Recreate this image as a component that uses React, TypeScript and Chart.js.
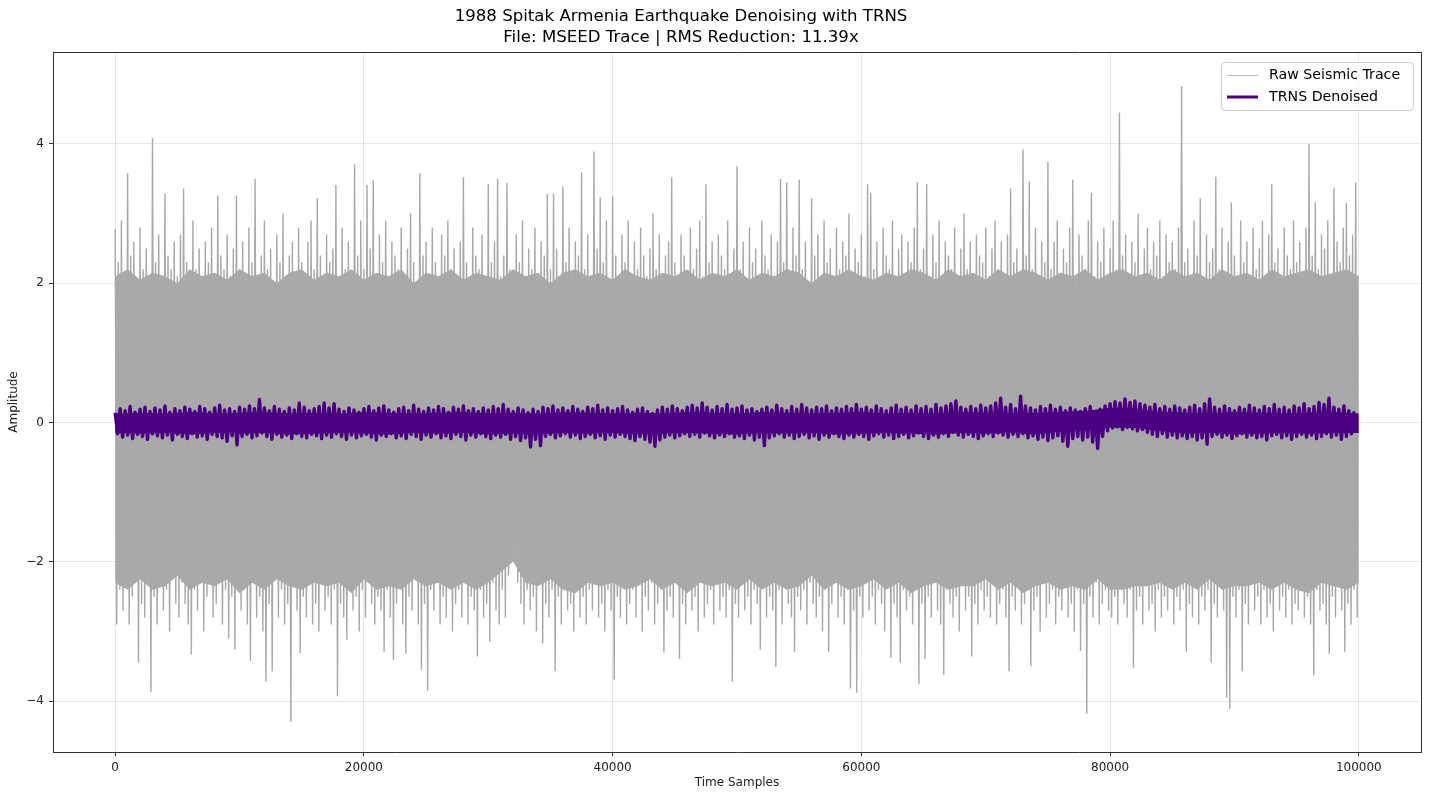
import { useEffect, useRef } from "react";
import { Chart, registerables } from "chart.js";

Chart.register(...registerables);

const TITLE_LINES = [
  "1988 Spitak Armenia Earthquake Denoising with TRNS",
  "File: MSEED Trace | RMS Reduction: 11.39x",
];
const X_TICKS = [0, 20000, 40000, 60000, 80000, 100000];
const Y_TICKS = [-4, -2, 0, 2, 4];

// raw trace: one peak then one trough every 250 samples
const RAW_STEP = 250;
const rawPeaks = [
  2.78, 2.3, 2.9, 2.1, 3.58, 2.4, 2.6, 2.0, 2.8, 2.2, 2.5, 2.0, 4.09, 2.3, 2.7, 2.1, 3.29, 2.4, 2.2, 2.6,
  2.1, 2.7, 3.36, 2.3, 2.0, 2.9, 2.2, 2.5, 2.1, 2.6, 2.3, 2.8, 2.0, 3.26, 2.4, 2.2, 2.7, 2.1, 2.5, 3.26,
  2.2, 2.6, 2.0, 2.8, 2.3, 3.5, 2.1, 2.4, 2.9, 2.2, 2.5, 2.0, 2.7, 2.3, 3.0, 2.1, 2.4, 2.6, 2.0, 2.8,
  2.3, 2.1, 2.6, 2.9, 2.2, 3.22, 2.4, 2.0, 2.7, 2.3, 2.5, 3.41, 2.1, 2.8, 2.2, 2.6, 2.0, 3.71, 2.4, 2.9,
  2.2, 3.41, 2.5, 3.48, 2.1, 2.7, 2.3, 2.9, 2.0, 2.6, 2.4, 2.2, 2.8, 2.1, 2.5, 3.0, 2.3, 2.0, 3.58, 2.4,
  2.6, 2.1, 2.8, 2.3, 2.0, 2.7, 2.4, 2.9, 2.2, 2.5, 2.0, 2.6, 3.52, 2.3, 2.1, 2.8, 2.4, 2.2, 2.7, 2.0,
  3.43, 2.3, 2.6, 3.5, 2.1, 2.4, 3.44, 2.2, 2.0, 2.7, 2.3, 2.9, 2.1, 2.5, 2.2, 2.8, 2.0, 2.6, 2.4, 3.28,
  2.2, 3.29, 2.5, 2.1, 3.39, 2.3, 2.8, 2.0, 2.6, 2.4, 3.59, 2.2, 2.7, 2.1, 3.89, 2.5, 3.23, 2.3, 2.9, 2.0,
  3.25, 2.4, 2.1, 2.7, 2.3, 2.9, 2.0, 2.6, 2.2, 2.8, 2.4, 2.1, 2.5, 3.0, 2.2, 2.7, 2.0, 2.4, 2.6, 3.52,
  2.3, 2.1, 2.7, 2.4, 2.0, 2.8, 2.2, 2.5, 2.9, 2.1, 3.42, 2.3, 2.6, 2.0, 2.7, 2.4, 2.2, 2.9, 2.1, 2.5,
  3.68, 2.2, 2.6, 2.0, 2.8, 2.3, 2.5, 2.1, 2.9, 2.4, 2.2, 2.7, 2.0, 2.6, 3.5, 2.3, 3.45, 2.1, 2.8, 2.4,
  3.49, 2.2, 2.6, 2.0, 3.22, 2.4, 2.7, 2.1, 2.9, 2.3, 2.5, 2.0, 2.8, 2.2, 2.6, 2.4, 3.0, 2.1, 2.5, 2.3,
  2.7, 2.1, 3.42, 3.3, 2.2, 2.6, 2.0, 2.8, 2.4, 2.2, 2.9, 2.1, 2.5, 2.7, 2.0, 2.6, 2.3, 2.8, 3.45, 2.2,
  2.5, 3.43, 2.1, 2.7, 2.3, 2.9, 2.0, 2.6, 2.4, 2.2, 2.8, 2.1, 2.5, 3.0, 2.2, 2.6, 2.0, 2.7, 2.4, 2.3,
  2.8, 2.1, 2.5, 2.9, 2.2, 2.6, 2.0, 2.7, 3.36, 2.3, 2.5, 2.1, 3.92, 2.4, 3.46, 2.2, 2.8, 2.0, 2.6, 2.3,
  3.74, 2.2, 2.6, 2.9, 2.1, 2.5, 2.3, 2.8, 3.49, 2.0, 2.7, 2.4, 2.2, 2.9, 3.3, 2.1, 2.6, 2.3, 2.8, 2.0,
  2.5, 2.9, 2.2, 4.45, 2.4, 2.7, 2.1, 2.6, 2.3, 3.0, 2.0, 2.5, 2.8, 2.2, 2.6, 2.4, 2.9, 2.1, 2.7, 2.3,
  2.6, 2.2, 2.8, 4.83, 2.3, 2.5, 2.0, 2.9, 2.4, 3.22, 2.1, 2.7, 2.3, 2.5, 3.53, 2.2, 2.8, 2.0, 2.6, 3.16,
  2.4, 2.1, 2.9, 2.3, 2.6, 2.0, 2.8, 2.2, 2.5, 2.9, 2.1, 2.7, 3.42, 2.3, 2.5, 2.0, 2.8, 2.4, 2.2, 2.9,
  2.3, 2.6, 2.1, 2.8, 4.0, 2.4, 3.16, 2.2, 2.7, 2.5, 2.9, 2.1, 3.37, 2.6, 2.3, 2.8, 3.15, 2.4, 2.7, 3.45,
];
const rawTroughs = [
  -2.9, -2.4, -2.7, -2.2, -2.9, -2.5, -2.3, -3.44, -2.6, -2.8, -2.2, -3.87, -2.5, -2.9, -2.3, -2.7, -2.4, -3.0, -2.2, -2.6,
  -2.8, -2.3, -2.6, -2.9, -3.33, -2.4, -2.7, -2.2, -3.0, -2.5, -2.3, -2.8, -2.6, -2.2, -2.9, -2.4, -3.1, -2.5, -3.26, -2.3,
  -2.7, -2.4, -2.9, -3.42, -2.3, -2.8, -2.5, -3.0, -3.72, -2.6, -3.57, -2.2, -2.8, -2.4, -2.9, -2.6, -4.3, -2.3, -2.7, -3.31,
  -2.5, -2.8, -2.3, -2.9, -2.6, -3.0, -2.2, -2.7, -2.5, -2.9, -2.4, -3.93, -2.6, -2.8, -3.12, -2.3, -2.7, -2.5, -3.0, -2.4,
  -2.8, -2.3, -2.6, -2.9, -2.5, -2.7, -3.29, -2.4, -2.8, -3.41, -2.6, -2.3, -2.9, -3.32, -2.5, -2.7, -2.2, -2.9, -3.55, -2.6,
  -3.85, -2.4, -2.7, -2.3, -2.9, -2.5, -2.8, -2.2, -3.0, -2.6, -2.4, -2.8, -2.3, -2.9, -2.5, -2.7, -3.36, -2.4, -2.8, -2.6,
  -3.15, -2.3, -2.7, -2.9, -2.4, -2.8, -2.2, -1.6, -1.5, -2.3, -2.6, -2.9, -2.4, -2.7, -2.5, -3.0, -2.3, -3.17, -2.6, -2.8,
  -2.4, -3.57, -2.5, -2.9, -2.3, -2.7, -2.6, -3.0, -2.2, -2.8, -2.5, -2.9, -2.4, -2.7, -2.3, -2.8, -2.6, -3.0, -2.4, -2.7,
  -3.69, -2.5, -2.8, -2.3, -2.9, -2.6, -2.4, -2.8, -2.2, -3.0, -2.5, -2.7, -2.3, -2.9, -2.6, -2.4, -3.3, -2.7, -2.5, -2.8,
  -2.3, -3.39, -2.6, -2.9, -2.4, -2.7, -2.5, -3.0, -2.2, -2.8, -2.6, -2.4, -2.9, -2.3, -2.7, -2.5, -2.8, -2.4, -3.72, -2.6,
  -2.8, -2.3, -2.7, -2.5, -2.9, -2.4, -2.6, -3.26, -2.3, -2.8, -2.5, -2.7, -3.51, -2.4, -2.9, -2.2, -2.6, -2.8, -3.29, -2.5,
  -2.7, -2.4, -2.9, -2.3, -2.6, -2.8, -2.5, -3.0, -2.4, -3.29, -2.6, -2.3, -2.8, -2.5, -2.9, -2.4, -3.82, -2.7, -3.88, -2.5,
  -2.8, -2.3, -2.7, -2.5, -2.9, -2.4, -2.6, -3.0, -2.3, -3.38, -2.6, -2.8, -3.45, -2.4, -2.7, -2.5, -2.9, -2.3, -3.75, -2.6,
  -3.4, -2.5, -2.8, -2.3, -2.7, -2.9, -3.62, -2.4, -2.6, -2.8, -2.5, -3.0, -2.3, -2.7, -2.5, -3.36, -2.6, -2.9, -2.4, -2.7,
  -2.5, -2.8, -2.3, -2.9, -2.6, -2.4, -2.8, -3.57, -2.5, -2.7, -2.3, -2.9, -2.6, -2.4, -3.5, -2.7, -2.5, -3.0, -2.3, -2.8,
  -2.6, -2.4, -2.9, -2.5, -2.7, -2.3, -2.8, -2.6, -3.0, -2.4, -3.28, -2.6, -4.18, -2.5, -2.8, -2.3, -2.9, -2.6, -2.4, -2.7,
  -2.8, -2.5, -2.9, -2.3, -2.6, -2.8, -2.4, -3.52, -2.7, -2.5, -2.9, -2.3, -2.7, -2.6, -3.0, -2.4, -2.8, -2.5, -2.7, -2.3,
  -2.9, -2.5, -2.7, -2.4, -3.29, -2.6, -2.8, -2.3, -2.9, -2.5, -2.7, -2.4, -3.45, -2.6, -2.8, -2.3, -2.7, -3.95, -4.11, -2.5,
  -2.8, -2.4, -3.57, -2.6, -2.9, -2.3, -2.7, -2.5, -2.9, -2.4, -2.8, -2.6, -3.0, -2.3, -2.7, -2.5, -2.8, -2.4, -2.9, -2.6,
  -2.7, -2.3, -2.8, -2.5, -2.9, -3.63, -2.4, -2.7, -2.6, -2.9, -3.32, -2.5, -2.8, -2.3, -2.7, -3.29, -2.6, -2.9, -2.4, -2.8,
];

// dense core of the raw trace, every 1000 samples
const BAND_STEP = 1000;
const rawBandTop = [
  2.1, 2.2, 2.05, 2.15, 2.1, 2.0, 2.2, 2.1, 2.15, 2.05, 2.2, 2.1, 2.15, 2.0, 2.15, 2.2, 2.05, 2.15, 2.1, 2.2,
  2.05, 2.15, 2.1, 2.2, 2.0, 2.15, 2.1, 2.2, 2.05, 2.15, 2.1, 2.05, 2.2, 2.1, 2.15, 2.0, 2.15, 2.2, 2.1, 2.15,
  2.05, 2.2, 2.1, 2.05, 2.15, 2.1, 2.2, 2.05, 2.15, 2.1, 2.2, 2.05, 2.15, 2.1, 2.2, 2.15, 2.0, 2.15, 2.1, 2.2,
  2.1, 2.05, 2.15, 2.1, 2.2, 2.15, 2.05, 2.2, 2.1, 2.15, 2.05, 2.2, 2.1, 2.2, 2.15, 2.05, 2.15, 2.1, 2.2, 2.05,
  2.15, 2.2, 2.1, 2.15, 2.05, 2.2, 2.1, 2.15, 2.05, 2.2, 2.1, 2.15, 2.05, 2.2, 2.1, 2.15, 2.2, 2.1, 2.15, 2.2, 2.1,
];
const rawBandBottom = [
  -2.3, -2.4, -2.25, -2.4, -2.35, -2.2, -2.4, -2.3, -2.35, -2.25, -2.45, -2.3, -2.4, -2.25, -2.35, -2.4, -2.3, -2.35, -2.3, -2.45,
  -2.25, -2.4, -2.35, -2.4, -2.25, -2.35, -2.3, -2.4, -2.3, -2.4, -2.3, -2.15, -2.0, -2.3, -2.35, -2.25, -2.4, -2.45, -2.3, -2.35,
  -2.3, -2.4, -2.35, -2.25, -2.4, -2.3, -2.45, -2.3, -2.35, -2.3, -2.4, -2.25, -2.4, -2.3, -2.4, -2.35, -2.2, -2.4, -2.3, -2.4,
  -2.35, -2.25, -2.4, -2.3, -2.45, -2.35, -2.3, -2.4, -2.35, -2.35, -2.25, -2.4, -2.3, -2.45, -2.35, -2.3, -2.4, -2.35, -2.4, -2.25,
  -2.4, -2.4, -2.35, -2.35, -2.3, -2.4, -2.3, -2.4, -2.25, -2.4, -2.35, -2.35, -2.3, -2.4, -2.3, -2.4, -2.45, -2.3, -2.35, -2.4, -2.3,
];

// denoised trace: one peak then one trough every 400 samples
const DEN_STEP = 400;
const denPeaks = [
  0.14, 0.2, 0.17, 0.23, 0.15, 0.19, 0.22, 0.16, 0.21, 0.18, 0.24, 0.15, 0.2, 0.17, 0.22, 0.19, 0.16, 0.23, 0.2, 0.15, 0.21, 0.25, 0.18, 0.2, 0.16,
  0.22, 0.19, 0.24, 0.2, 0.33, 0.21, 0.17, 0.23, 0.19, 0.16, 0.21, 0.18, 0.28, 0.22, 0.17, 0.2, 0.23, 0.28, 0.21, 0.27, 0.19, 0.16, 0.21, 0.18, 0.15,
  0.2, 0.23, 0.17, 0.21, 0.24, 0.18, 0.15, 0.2, 0.22, 0.17, 0.25, 0.19, 0.16, 0.21, 0.18, 0.23, 0.2, 0.15, 0.22, 0.19, 0.24, 0.17, 0.2, 0.16, 0.21,
  0.18, 0.23, 0.2, 0.26, 0.19, 0.16, 0.21, 0.18, 0.14, 0.19, 0.16, 0.22, 0.2, 0.24, 0.18, 0.21, 0.17, 0.23, 0.19, 0.16, 0.22, 0.2, 0.25, 0.18, 0.21,
  0.17, 0.2, 0.23, 0.18, 0.15, 0.19, 0.21, 0.16, 0.13, 0.18, 0.22, 0.19, 0.24, 0.2, 0.17, 0.22, 0.25, 0.21, 0.28, 0.22, 0.18, 0.23, 0.2, 0.26, 0.19,
  0.21, 0.24, 0.18, 0.2, 0.16, 0.19, 0.22, 0.18, 0.25, 0.2, 0.17, 0.23, 0.19, 0.26, 0.21, 0.18, 0.22, 0.2, 0.24, 0.17, 0.21, 0.19, 0.23, 0.2, 0.26,
  0.19, 0.22, 0.18, 0.24, 0.2, 0.17, 0.21, 0.25, 0.19, 0.22, 0.18, 0.24, 0.2, 0.23, 0.19, 0.26, 0.21, 0.24, 0.27, 0.31, 0.22, 0.19, 0.23, 0.2, 0.25,
  0.21, 0.24, 0.28, 0.35, 0.22, 0.26, 0.2, 0.38, 0.24, 0.21, 0.18, 0.23, 0.2, 0.25, 0.19, 0.22, 0.17, 0.21, 0.18, 0.16, 0.2, 0.23, 0.15, 0.19, 0.24,
  0.27, 0.3, 0.28, 0.34, 0.29, 0.31, 0.27, 0.25, 0.22, 0.26, 0.2, 0.23, 0.19, 0.24, 0.21, 0.18, 0.22, 0.25, 0.2, 0.27, 0.34, 0.22, 0.19, 0.24, 0.2,
  0.17, 0.22, 0.19, 0.25, 0.21, 0.18, 0.23, 0.2, 0.26, 0.19, 0.22, 0.18, 0.24, 0.21, 0.27, 0.2, 0.23, 0.29, 0.26, 0.35, 0.22, 0.19, 0.24, 0.17, 0.14,
];
const denTroughs = [
  -0.16, -0.21, -0.18, -0.23, -0.17, -0.2, -0.24, -0.16, -0.19, -0.22, -0.18, -0.25, -0.17, -0.2, -0.23, -0.16, -0.21, -0.19, -0.24, -0.17, -0.2, -0.22, -0.27, -0.19, -0.32,
  -0.2, -0.17, -0.22, -0.19, -0.15, -0.2, -0.24, -0.17, -0.21, -0.18, -0.23, -0.16, -0.2, -0.22, -0.17, -0.19, -0.23, -0.18, -0.21, -0.16, -0.2, -0.24, -0.18, -0.22, -0.19,
  -0.17, -0.21, -0.25, -0.18, -0.2, -0.16, -0.22, -0.19, -0.23, -0.17, -0.2, -0.24, -0.18, -0.21, -0.16, -0.22, -0.19, -0.23, -0.17, -0.2, -0.25, -0.18, -0.21, -0.16, -0.2,
  -0.23, -0.18, -0.21, -0.17, -0.24, -0.2, -0.26, -0.22, -0.35, -0.24, -0.33, -0.2, -0.17, -0.22, -0.19, -0.16, -0.21, -0.18, -0.23, -0.2, -0.17, -0.22, -0.19, -0.24, -0.18,
  -0.21, -0.17, -0.2, -0.23, -0.26, -0.2, -0.24, -0.28, -0.34, -0.25, -0.21, -0.18, -0.22, -0.19, -0.16, -0.2, -0.17, -0.21, -0.15, -0.19, -0.22, -0.18, -0.2, -0.16, -0.21,
  -0.19, -0.23, -0.18, -0.25, -0.21, -0.33, -0.22, -0.19, -0.16, -0.21, -0.18, -0.23, -0.2, -0.17, -0.22, -0.19, -0.24, -0.18, -0.21, -0.16, -0.2, -0.23, -0.18, -0.21, -0.17,
  -0.2, -0.24, -0.19, -0.16, -0.21, -0.18, -0.23, -0.2, -0.17, -0.22, -0.19, -0.15, -0.2, -0.23, -0.18, -0.21, -0.16, -0.2, -0.14, -0.18, -0.21, -0.17, -0.2, -0.23, -0.19,
  -0.16, -0.2, -0.15, -0.18, -0.21, -0.17, -0.2, -0.16, -0.22, -0.19, -0.24, -0.21, -0.26, -0.22, -0.19, -0.27, -0.34, -0.23, -0.2, -0.25, -0.21, -0.28, -0.37, -0.2, -0.12,
  -0.08, -0.06, -0.1, -0.07, -0.09, -0.12, -0.1, -0.14, -0.17, -0.2, -0.16, -0.21, -0.18, -0.22, -0.19, -0.23, -0.2, -0.25, -0.22, -0.31, -0.2, -0.17, -0.21, -0.18, -0.23,
  -0.19, -0.16, -0.21, -0.18, -0.22, -0.2, -0.25, -0.19, -0.17, -0.22, -0.19, -0.24, -0.2, -0.17, -0.21, -0.18, -0.23, -0.2, -0.16, -0.21, -0.18, -0.24, -0.2, -0.16, -0.12,
];
// solid core of the denoised trace, every 2000 samples
const DEN_BAND_STEP = 2000;
const denBandTop = [
  0.13, 0.14, 0.13, 0.15, 0.13, 0.14, 0.15, 0.13, 0.14, 0.13, 0.15, 0.14, 0.13, 0.14, 0.15, 0.13, 0.14,
  0.13, 0.15, 0.14, 0.13, 0.14, 0.13, 0.15, 0.14, 0.13, 0.15, 0.14, 0.13, 0.14, 0.15, 0.13, 0.14, 0.13,
  0.15, 0.14, 0.13, 0.14, 0.15, 0.17, 0.21, 0.2, 0.16, 0.14, 0.13, 0.15, 0.14, 0.13, 0.14, 0.15, 0.13,
];
const denBandBottom = [
  -0.15, -0.16, -0.15, -0.17, -0.15, -0.16, -0.15, -0.17, -0.16, -0.15, -0.16, -0.17, -0.15, -0.16, -0.15, -0.17, -0.16,
  -0.17, -0.15, -0.16, -0.15, -0.17, -0.16, -0.15, -0.16, -0.17, -0.15, -0.16, -0.15, -0.17, -0.16, -0.15, -0.16, -0.17,
  -0.15, -0.16, -0.15, -0.17, -0.13, -0.1, -0.07, -0.08, -0.12, -0.16, -0.15, -0.17, -0.16, -0.15, -0.16, -0.15, -0.15,
];

const RAW_LINE = "#a8a8a8";
const RAW_FILL = "#aaaaaa";
const DEN_COLOR = "#4b0082";
const FONT = "'DejaVu Sans', sans-serif";

function zigzag(peaks: number[], troughs: number[], step: number) {
  const pts: { x: number; y: number }[] = [];
  peaks.forEach((p, i) => {
    pts.push({ x: i * step, y: p });
    if (i < troughs.length) pts.push({ x: i * step + step / 2, y: troughs[i] });
  });
  return pts;
}

function band(values: number[], step: number) {
  return values.map((v, i) => ({ x: i * step, y: v }));
}

const fmt = (v: number) => (v < 0 ? "\u2212" + Math.abs(v) : String(v));

const decor = {
  id: "decor",
  afterDraw(chart: Chart) {
    const { ctx, chartArea: a } = chart;
    ctx.save();
    // top / right spines
    ctx.strokeStyle = "#333";
    ctx.lineWidth = 1;
    ctx.beginPath();
    ctx.moveTo(a.left, a.top + 0.5);
    ctx.lineTo(a.right + 0.5, a.top + 0.5);
    ctx.lineTo(a.right + 0.5, a.bottom);
    ctx.stroke();

    // title
    ctx.fillStyle = "#000";
    ctx.font = `16.6px ${FONT}`;
    ctx.textAlign = "center";
    ctx.textBaseline = "middle";
    ctx.fillText(TITLE_LINES[0], 681, 17);
    ctx.fillText(TITLE_LINES[1], 681, 38);

    // legend
    const bx = 1221, by = 62, bw = 192, bh = 48;
    ctx.beginPath();
    ctx.roundRect(bx + 0.5, by + 0.5, bw, bh, 4);
    ctx.fillStyle = "rgba(255,255,255,0.8)";
    ctx.fill();
    ctx.strokeStyle = "#cccccc";
    ctx.stroke();

    ctx.lineWidth = 1;
    ctx.strokeStyle = "#b8b8b8";
    ctx.beginPath();
    ctx.moveTo(1227, 75.5);
    ctx.lineTo(1258, 75.5);
    ctx.stroke();
    ctx.lineWidth = 3;
    ctx.strokeStyle = DEN_COLOR;
    ctx.beginPath();
    ctx.moveTo(1227, 97);
    ctx.lineTo(1258, 97);
    ctx.stroke();

    ctx.fillStyle = "#000";
    ctx.font = `14.2px ${FONT}`;
    ctx.textAlign = "left";
    ctx.fillText("Raw Seismic Trace", 1269, 75);
    ctx.fillText("TRNS Denoised", 1269, 97);
    ctx.restore();
  },
};

export default function App() {
  const ref = useRef<HTMLCanvasElement>(null);

  useEffect(() => {
    const hidden = { borderColor: "transparent", borderWidth: 0, pointRadius: 0 };
    const chart = new Chart(ref.current!, {
      type: "line",
      data: {
        datasets: [
          { label: "Raw Seismic Trace", data: zigzag(rawPeaks, rawTroughs, RAW_STEP), borderColor: RAW_LINE, borderWidth: 1.4, pointRadius: 0, fill: false, order: 3 },
          { label: "raw core top", data: band(rawBandTop, BAND_STEP), ...hidden, fill: false, order: 5 },
          { label: "raw core bottom", data: band(rawBandBottom, BAND_STEP), ...hidden, backgroundColor: RAW_FILL, fill: "-1", order: 4 },
          { label: "TRNS Denoised", data: zigzag(denPeaks, denTroughs, DEN_STEP), borderColor: DEN_COLOR, borderWidth: 3.4, borderJoinStyle: "round", pointRadius: 0, fill: false, order: 0 },
          { label: "den core top", data: band(denBandTop, DEN_BAND_STEP), ...hidden, fill: false, order: 2 },
          { label: "den core bottom", data: band(denBandBottom, DEN_BAND_STEP), ...hidden, backgroundColor: DEN_COLOR, fill: "-1", order: 1 },
        ],
      },
      options: {
        animation: false,
        responsive: false,
        events: [],
        layout: { padding: { top: 52, right: 9, left: 0, bottom: 0 } },
        plugins: { legend: { display: false }, title: { display: false }, tooltip: { enabled: false } },
        elements: { line: { tension: 0 } },
        scales: {
          x: {
            type: "linear",
            min: -5000,
            max: 105000,
            afterFit: (s: any) => { s.height = 48; },
            afterBuildTicks: (s: any) => { s.ticks = X_TICKS.map((v) => ({ value: v })); },
            ticks: { callback: (v: any) => fmt(Number(v)), color: "#222", font: { family: FONT, size: 12 }, padding: 5, maxRotation: 0 },
            grid: { color: "rgba(176,176,176,0.3)", tickColor: "#333", tickLength: 4 },
            border: { color: "#333", width: 1 },
            title: { display: true, text: "Time Samples", color: "#222", font: { family: FONT, size: 12 }, padding: { top: 0, bottom: 9.8 } },
          },
          y: {
            type: "linear",
            min: -4.73,
            max: 5.32,
            afterFit: (s: any) => { s.width = 53; },
            afterBuildTicks: (s: any) => { s.ticks = Y_TICKS.map((v) => ({ value: v })); },
            ticks: { callback: (v: any) => fmt(Number(v)), color: "#222", font: { family: FONT, size: 12 }, padding: 5 },
            grid: { color: "rgba(176,176,176,0.3)", tickColor: "#333", tickLength: 4 },
            border: { color: "#333", width: 1 },
            title: { display: true, text: "Amplitude", color: "#222", font: { family: FONT, size: 12 }, padding: { top: 6.8, bottom: 0 } },
          },
        },
      },
      plugins: [decor],
    });
    return () => chart.destroy();
  }, []);

  return (
    <div style={{ position: "absolute", left: 0, top: 0, width: 1430, height: 800, background: "#fff" }}>
      <canvas ref={ref} width={1430} height={800} style={{ width: 1430, height: 800 }} />
    </div>
  );
}
